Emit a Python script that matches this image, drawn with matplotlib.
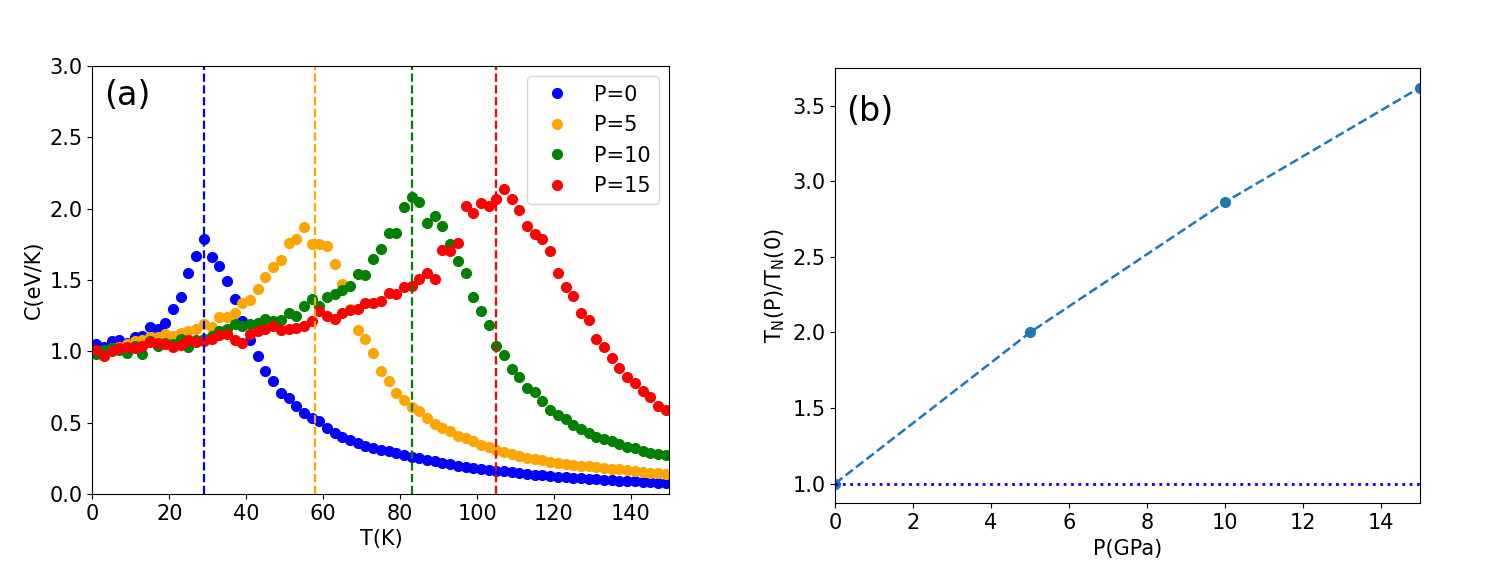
import numpy as np
import matplotlib
matplotlib.use('Agg')
import matplotlib.pyplot as plt

# temperaturas (K)
T = np.arange(1, 150, 2)

c_p0 = [1.05, 1.03, 1.07, 1.08, 1.06, 1.10, 1.11, 1.17, 1.16, 1.20,
        1.30, 1.38, 1.55, 1.67, 1.79, 1.66, 1.60, 1.49, 1.37, 1.21,
        1.08, 0.97, 0.86, 0.79, 0.71, 0.67, 0.62, 0.57, 0.53, 0.51,
        0.46, 0.43, 0.40, 0.38, 0.36, 0.34, 0.32, 0.31, 0.30, 0.285,
        0.274, 0.262, 0.25, 0.24, 0.23, 0.218, 0.207, 0.198, 0.19, 0.184,
        0.177, 0.17, 0.164, 0.158, 0.152, 0.147, 0.142, 0.136, 0.131, 0.126,
        0.122, 0.118, 0.114, 0.11, 0.107, 0.104, 0.10, 0.097, 0.094, 0.091,
        0.088, 0.085, 0.081, 0.078, 0.075]

c_p5 = [1.00, 0.99, 1.02, 1.03, 1.05, 1.07, 1.08, 1.10, 1.10, 1.12,
        1.11, 1.13, 1.14, 1.16, 1.19, 1.17, 1.24, 1.24, 1.27, 1.34,
        1.36, 1.44, 1.52, 1.59, 1.64, 1.76, 1.79, 1.87, 1.75, 1.75,
        1.74, 1.61, 1.47, 1.30, 1.15, 1.09, 0.99, 0.86, 0.79, 0.71,
        0.66, 0.61, 0.58, 0.53, 0.49, 0.46, 0.44, 0.41, 0.39, 0.37,
        0.345, 0.33, 0.31, 0.297, 0.283, 0.27, 0.255, 0.245, 0.235, 0.225,
        0.215, 0.21, 0.204, 0.198, 0.193, 0.188, 0.183, 0.178, 0.172, 0.166,
        0.16, 0.155, 0.15, 0.145, 0.14]

c_p10 = [0.98, 1.01, 1.02, 1.01, 0.99, 1.04, 0.98, 1.07, 1.04, 1.06,
         1.05, 1.09, 1.03, 1.08, 1.09, 1.11, 1.14, 1.16, 1.19, 1.18,
         1.19, 1.20, 1.225, 1.21, 1.22, 1.27, 1.245, 1.315, 1.37, 1.32,
         1.38, 1.405, 1.43, 1.46, 1.54, 1.535, 1.65, 1.72, 1.83, 1.83,
         2.015, 2.08, 2.05, 1.90, 1.95, 1.88, 1.75, 1.63, 1.55, 1.38,
         1.28, 1.185, 1.04, 0.975, 0.877, 0.823, 0.741, 0.713, 0.652, 0.589,
         0.554, 0.524, 0.484, 0.454, 0.426, 0.402, 0.386, 0.374, 0.351, 0.332,
         0.325, 0.304, 0.29, 0.28, 0.273]

c_p15 = [1.01, 0.97, 1.00, 1.02, 1.03, 1.02, 1.035, 1.065, 1.06, 1.05,
         1.03, 1.045, 1.08, 1.065, 1.075, 1.09, 1.115, 1.12, 1.08, 1.06,
         1.125, 1.14, 1.16, 1.175, 1.15, 1.155, 1.165, 1.175, 1.215, 1.28,
         1.25, 1.23, 1.267, 1.29, 1.30, 1.337, 1.342, 1.356, 1.41, 1.40,
         1.45, 1.46, 1.51, 1.55, 1.51, 1.71, 1.70, 1.76, 2.02, 1.97,
         2.04, 2.02, 2.07, 2.14, 2.07, 1.99, 1.88, 1.82, 1.79, 1.70,
         1.55, 1.45, 1.39, 1.27, 1.22, 1.085, 1.03, 0.95, 0.88, 0.82,
         0.78, 0.72, 0.68, 0.62, 0.59]

pressoes = [0, 5, 10, 15]
TN = [29, 58, 83, 105]
cores = ['blue', 'orange', 'green', 'red']
rotulos = ['P=0', 'P=5', 'P=10', 'P=15']

plt.rcParams['font.size'] = 15

fig = plt.figure(figsize=(14.96, 5.67), dpi=100)
ax1 = fig.add_axes([0.0617, 0.1287, 0.3858, 0.7549])
ax2 = fig.add_axes([0.5582, 0.1123, 0.391, 0.7683])

# (a) calor especifico
for c, cor, rot in zip([c_p0, c_p5, c_p10, c_p15], cores, rotulos):
    ax1.plot(T, c, 'o', color=cor, ms=7, label=rot)
for tn, cor in zip(TN, cores):
    ax1.axvline(tn, color=cor, ls='--', lw=1.6)
ax1.set_xlim(0, 150)
ax1.set_ylim(0, 3)
ax1.set_xticks(range(0, 141, 20))
ax1.set_xlabel('T(K)')
ax1.set_ylabel('C(eV/K)')
ax1.legend(loc='upper right')
ax1.text(0.02, 0.93, '(a)', transform=ax1.transAxes, fontsize=24, va='center')

# (b) TN(P)/TN(0)
razao = [t / TN[0] for t in TN]
ax2.plot(pressoes, razao, 'o--', color='tab:blue', ms=7, lw=1.8)
ax2.axhline(1.0, color='b', ls=':', lw=2)
ax2.set_xlim(0, 15)
ax2.set_xticks(range(0, 15, 2))
ax2.set_xlabel('P(GPa)')
ax2.set_ylabel(r'T$_\mathrm{N}$(P)/T$_\mathrm{N}$(0)')
ax2.text(0.019, 0.9, '(b)', transform=ax2.transAxes, fontsize=24, va='center')

fig.savefig('out.png', dpi=100)
